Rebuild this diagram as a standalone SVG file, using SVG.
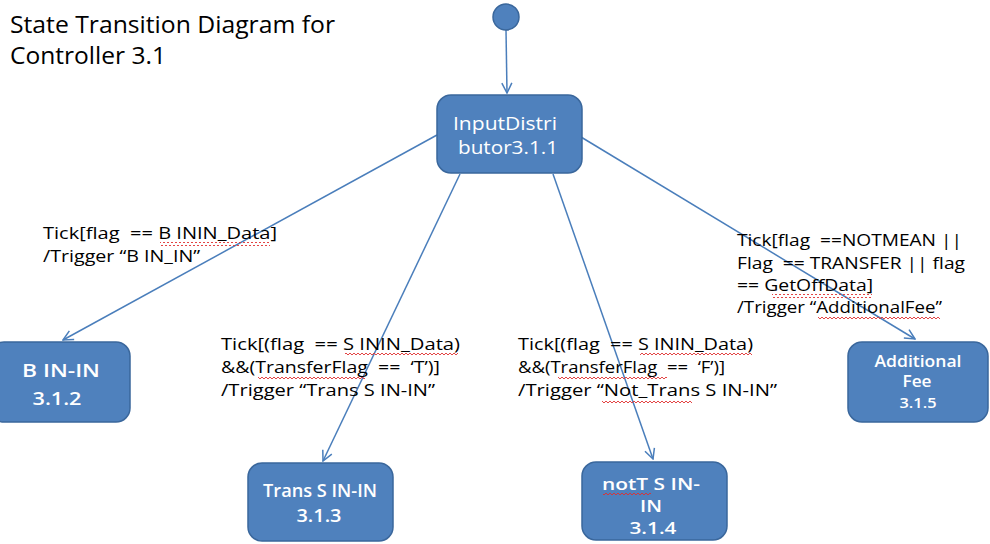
<svg xmlns="http://www.w3.org/2000/svg" width="990" height="544" viewBox="0 0 990 544">
<style>
.box{fill:#4F81BD;stroke:#3A679C;stroke-width:1.5}
.nt{fill:#fff;font-family:"Open Sans","Noto Sans",sans-serif;font-size:18px;font-weight:600;text-anchor:middle}
.lbl{fill:#000;font-family:"Open Sans","Noto Sans",sans-serif;font-size:16px}
.title{fill:#000;font-family:"Open Sans","Noto Sans",sans-serif;font-size:23px}
.edge{stroke:#4A7EBB;stroke-width:1.5;fill:none;marker-end:url(#arr)}
.wavy{fill:url(#wave)}
</style>
<defs>
<marker id="arr" viewBox="0 0 12 12" refX="11" refY="6" markerWidth="12" markerHeight="12" markerUnits="userSpaceOnUse" orient="auto">
<path d="M1,1 L11,6 L1,11" fill="none" stroke="#4A7EBB" stroke-width="1.5"/>
</marker>
<pattern id="wave" width="4" height="4" patternUnits="userSpaceOnUse">
<path d="M0,3 L2,1 L4,3" fill="none" stroke="#E03030" stroke-width="0.9"/>
</pattern>
</defs>

<text class="title" x="10" y="33" textLength="325" lengthAdjust="spacingAndGlyphs">State Transition Diagram for</text>
<text class="title" x="10" y="64" textLength="156" lengthAdjust="spacingAndGlyphs">Controller 3.1</text>

<g id="connectors">
<line class="edge" x1="506" y1="30" x2="507" y2="93"/>
<line class="edge" x1="437" y1="135" x2="63" y2="340"/>
<line class="edge" x1="460" y1="174" x2="323" y2="461"/>
<line class="edge" x1="553" y1="174" x2="653" y2="459"/>
<line class="edge" x1="581" y1="137" x2="915" y2="339"/>
</g>

<g id="start">
<circle cx="506" cy="17" r="13" fill="#4F81BD" stroke="#3A679C" stroke-width="1.5"/>
</g>

<g id="n311">
<rect class="box" x="437" y="95" width="145" height="78" rx="14"/>
<text class="nt" x="505" y="130" textLength="104" lengthAdjust="spacingAndGlyphs" style="font-weight:400">InputDistri</text>
<text class="nt" x="508" y="154" textLength="100" lengthAdjust="spacingAndGlyphs" style="font-weight:400">butor3.1.1</text>
</g>

<g id="n312">
<rect class="box" x="-10" y="342" width="140" height="80" rx="14"/>
<text class="nt" x="61" y="377" textLength="78" lengthAdjust="spacingAndGlyphs">B IN-IN</text>
<text class="nt" x="57" y="405" textLength="49" lengthAdjust="spacingAndGlyphs">3.1.2</text>
</g>

<g id="n313">
<rect class="box" x="248" y="463" width="145" height="78" rx="14"/>
<text class="nt" x="320" y="497" textLength="114" lengthAdjust="spacingAndGlyphs">Trans S IN-IN</text>
<text class="nt" x="319" y="522" textLength="45" lengthAdjust="spacingAndGlyphs">3.1.3</text>
</g>

<g id="n314">
<rect class="box" x="582" y="462" width="145" height="78" rx="14"/>
<text class="nt" x="651" y="490" textLength="98" lengthAdjust="spacingAndGlyphs" style="font-size:17px">notT S IN-</text>
<text class="nt" x="651" y="512" textLength="22" lengthAdjust="spacingAndGlyphs" style="font-size:17px">IN</text>
<text class="nt" x="653" y="534" textLength="47" lengthAdjust="spacingAndGlyphs" style="font-size:17px">3.1.4</text>
<rect class="wavy" x="603" y="492" width="48" height="4"/>
</g>

<g id="n315">
<rect class="box" x="848" y="342" width="140" height="80" rx="14"/>
<text class="nt" x="918" y="367" textLength="87" lengthAdjust="spacingAndGlyphs" style="font-size:16px">Additional</text>
<text class="nt" x="917" y="387" textLength="29" lengthAdjust="spacingAndGlyphs" style="font-size:16px">Fee</text>
<text class="nt" x="918" y="408" textLength="37" lengthAdjust="spacingAndGlyphs" style="font-size:14px">3.1.5</text>
</g>

<g id="labels">
<text class="lbl" x="43" y="239" textLength="234" lengthAdjust="spacingAndGlyphs" xml:space="preserve">Tick[flag  == B ININ_Data]</text>
<text class="lbl" x="43" y="262" textLength="157" lengthAdjust="spacingAndGlyphs">/Trigger “B IN_IN”</text>
<rect class="wavy" x="160" y="242" width="110" height="4"/>

<text class="lbl" x="221" y="350" textLength="239" lengthAdjust="spacingAndGlyphs" xml:space="preserve">Tick[(flag  == S ININ_Data)</text>
<text class="lbl" x="221" y="373" textLength="219" lengthAdjust="spacingAndGlyphs" xml:space="preserve">&amp;&amp;(TransferFlag  ==  ‘T’)]</text>
<text class="lbl" x="221" y="396" textLength="214" lengthAdjust="spacingAndGlyphs">/Trigger “Trans S IN-IN”</text>
<rect class="wavy" x="345" y="353" width="113" height="4"/>
<rect class="wavy" x="258" y="376" width="107" height="4"/>

<text class="lbl" x="518" y="350" textLength="235" lengthAdjust="spacingAndGlyphs" xml:space="preserve">Tick[(flag  == S ININ_Data)</text>
<text class="lbl" x="518" y="373" textLength="207" lengthAdjust="spacingAndGlyphs" xml:space="preserve">&amp;&amp;(TransferFlag  ==  ‘F’)]</text>
<text class="lbl" x="518" y="396" textLength="259" lengthAdjust="spacingAndGlyphs">/Trigger “Not_Trans S IN-IN”</text>
<rect class="wavy" x="640" y="353" width="112" height="4"/>
<rect class="wavy" x="558" y="376" width="109" height="4"/>
<rect class="wavy" x="602" y="399" width="90" height="4"/>

<text class="lbl" x="737" y="246" textLength="225" lengthAdjust="spacingAndGlyphs" xml:space="preserve">Tick[flag  ==NOTMEAN ||</text>
<text class="lbl" x="737" y="269" textLength="228" lengthAdjust="spacingAndGlyphs" xml:space="preserve">Flag  == TRANSFER || flag</text>
<text class="lbl" x="737" y="291" textLength="136" lengthAdjust="spacingAndGlyphs">== GetOffData]</text>
<text class="lbl" x="737" y="313" textLength="205" lengthAdjust="spacingAndGlyphs">/Trigger “AdditionalFee”</text>
<rect class="wavy" x="772" y="294" width="100" height="4"/>
<rect class="wavy" x="818" y="316" width="122" height="4"/>
</g>
</svg>
